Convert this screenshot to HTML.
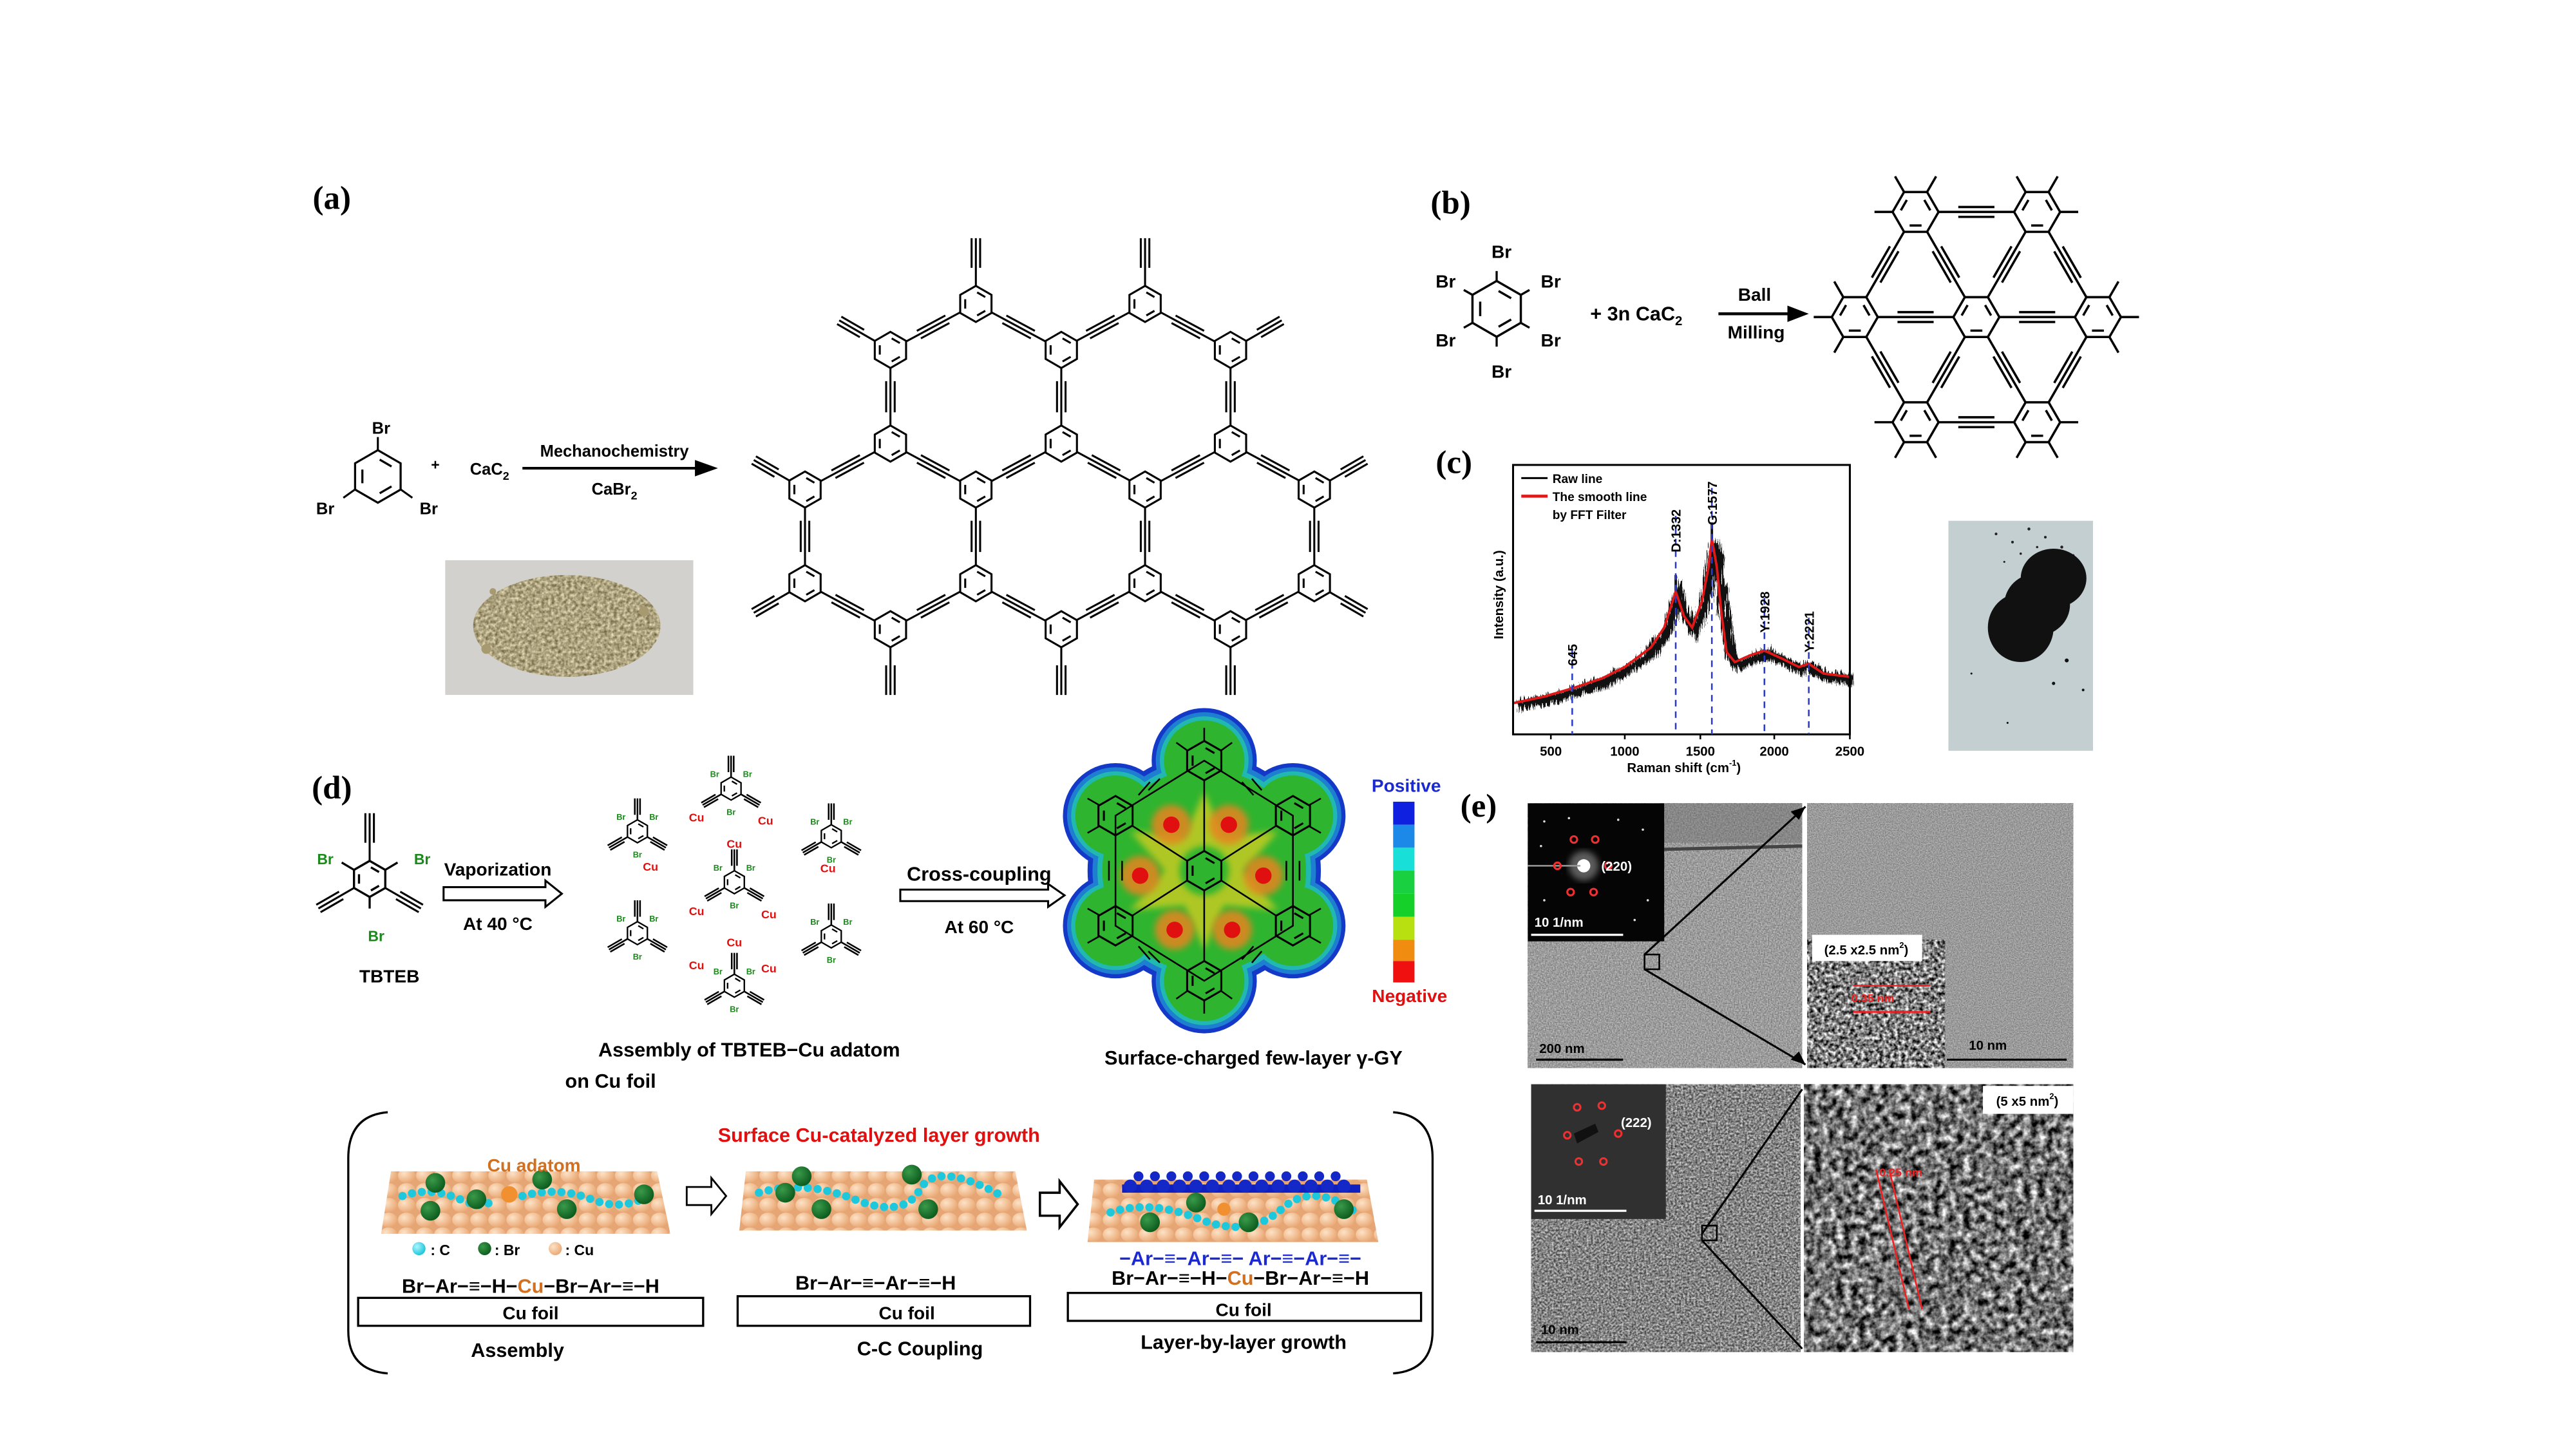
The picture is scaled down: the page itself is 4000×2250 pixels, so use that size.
<!DOCTYPE html>
<html><head><meta charset="utf-8">
<style>
html,body{margin:0;padding:0;background:#fff;}
svg{display:block;}
text{font-family:"Liberation Sans","DejaVu Sans",sans-serif;font-weight:bold;}
.s{font-family:"Liberation Serif",serif;font-weight:bold;}
filter{color-interpolation-filters:sRGB;}
</style></head>
<body>
<svg xmlns="http://www.w3.org/2000/svg" xmlns:xlink="http://www.w3.org/1999/xlink" width="4000" height="2250" viewBox="0 0 1568 882" preserveAspectRatio="none">
<defs>
<g id="R"><polygon points="0,-10 8.66,-5 8.66,5 0,10 -8.66,5 -8.66,-5"/><path d="M0.7,-6.4L5.2,-3.8M5.2,3.8L0.7,6.4M-5.89,2.6L-5.89,-2.6" fill="none"/></g>
<g id="bd"><path d="M0,0H59.06M19.7,-2.6H39.4M19.7,2.6H39.4" stroke="#000" stroke-width="1.2" fill="none"/></g>
<g id="bv"><path d="M0,0H57M19,-2.6H38M19,2.6H38" stroke="#000" stroke-width="1.2" fill="none"/></g>
<g id="tA"><path d="M0,0H36M20,-2.6H36M20,2.6H36" stroke="#000" stroke-width="1.2" fill="none"/></g>
<g id="tU"><path d="M0,0H40M22,-2.6H40M22,2.6H40" stroke="#000" stroke-width="1.2" fill="none"/></g>
<g id="bB"><path d="M0,0H74M26,-3H48M26,3H48" stroke="#000" stroke-width="1.4" fill="none"/></g>
<g id="st"><path d="M14,0H25" stroke="#000" stroke-width="1.4"/></g>
<g id="t2"><path d="M0,0H20M10,-1.6H20M10,1.6H20" stroke="#000" stroke-width="1" fill="none"/></g>
<g id="mol">
 <use href="#t2" transform="rotate(-90)"/><use href="#t2" transform="rotate(30)"/><use href="#t2" transform="rotate(150)"/>
 <use href="#R" transform="scale(0.7)" fill="#fff" stroke="#000" stroke-width="1.3"/>
 <text x="-10" y="-7" font-size="5" fill="#1a8a1a" text-anchor="middle">Br</text>
 <text x="10" y="-7" font-size="5" fill="#1a8a1a" text-anchor="middle">Br</text>
 <text x="0" y="16" font-size="5" fill="#1a8a1a" text-anchor="middle">Br</text>
</g>
<filter id="nTop" x="0" y="0" width="1" height="1" color-interpolation-filters="sRGB"><feTurbulence type="fractalNoise" baseFrequency="1.2" numOctaves="2" seed="3"/><feColorMatrix type="matrix" values="0.5 0 0 0 0.36  0.5 0 0 0 0.36  0.5 0 0 0 0.36  0 0 0 0 1"/></filter>
<filter id="nTR" x="0" y="0" width="1" height="1" color-interpolation-filters="sRGB"><feTurbulence type="fractalNoise" baseFrequency="1.4" numOctaves="2" seed="5"/><feColorMatrix type="matrix" values="0.45 0 0 0 0.38  0.45 0 0 0 0.38  0.45 0 0 0 0.38  0 0 0 0 1"/></filter>
<filter id="nHR" x="0" y="0" width="1" height="1" color-interpolation-filters="sRGB"><feTurbulence type="fractalNoise" baseFrequency="0.45" numOctaves="2" seed="8"/><feColorMatrix type="matrix" values="1.8 0 0 0 -0.4  1.8 0 0 0 -0.4  1.8 0 0 0 -0.4  0 0 0 0 1"/></filter>
<filter id="nBL" x="0" y="0" width="1" height="1" color-interpolation-filters="sRGB"><feTurbulence type="fractalNoise" baseFrequency="0.8" numOctaves="2" seed="11"/><feColorMatrix type="matrix" values="1.0 0 0 0 0.02  1.0 0 0 0 0.02  1.0 0 0 0 0.02  0 0 0 0 1"/></filter>
<filter id="nBR" x="0" y="0" width="1" height="1" color-interpolation-filters="sRGB"><feTurbulence type="fractalNoise" baseFrequency="0.22" numOctaves="3" seed="4"/><feColorMatrix type="matrix" values="1.7 0 0 0 -0.4  1.7 0 0 0 -0.4  1.7 0 0 0 -0.4  0 0 0 0 1"/></filter>
<filter id="nPow" x="0" y="0" width="1" height="1" color-interpolation-filters="sRGB"><feTurbulence type="fractalNoise" baseFrequency="0.5" numOctaves="2" seed="2"/><feColorMatrix type="matrix" values="0.7 0 0 0 0.33  0.7 0 0 0 0.29  0.7 0 0 0 0.15  0 0 0 0 1"/></filter>
<filter id="jit" x="-5%" y="-20%" width="110%" height="140%" color-interpolation-filters="sRGB"><feTurbulence type="turbulence" baseFrequency="0.9 0.05" numOctaves="2" seed="7" result="t"/><feDisplacementMap in="SourceGraphic" in2="t" scale="8" xChannelSelector="R" yChannelSelector="G"/></filter>
<filter id="blur2" color-interpolation-filters="sRGB"><feGaussianBlur stdDeviation="2"/></filter>
<clipPath id="powClip"><ellipse cx="345" cy="381" rx="57" ry="31"/></clipPath>
<radialGradient id="cuG" cx="0.35" cy="0.35" r="0.7"><stop offset="0" stop-color="#fde2c6"/><stop offset="1" stop-color="#e9a874"/></radialGradient>
<radialGradient id="cG" cx="0.35" cy="0.35" r="0.7"><stop offset="0" stop-color="#aef6ff"/><stop offset="1" stop-color="#16c4d8"/></radialGradient>
<radialGradient id="gG" cx="0.35" cy="0.35" r="0.7"><stop offset="0" stop-color="#3a9a4a"/><stop offset="1" stop-color="#0b5a1c"/></radialGradient>
<pattern id="cu" width="11" height="9" patternUnits="userSpaceOnUse"><rect width="11" height="9" fill="#e6a574"/><ellipse cx="5.5" cy="4.5" rx="5.3" ry="4.4" fill="url(#cuG)"/></pattern>
</defs>

<!-- ===== (a) ===== -->
<text x="202" y="127" font-size="20" class="s" text-anchor="middle">(a)</text>
<use href="#R" transform="translate(230,290) scale(1.6)" fill="#fff" stroke="#000" stroke-width="0.8"/>
<path d="M230,274V266M216,298L209,303M244,298L251,303" stroke="#000" stroke-width="1.2"/>
<text x="232" y="264" font-size="10" text-anchor="middle">Br</text>
<text x="198" y="313" font-size="10" text-anchor="middle">Br</text>
<text x="261" y="313" font-size="10" text-anchor="middle">Br</text>
<text x="265" y="286" font-size="9" text-anchor="middle">+</text>
<text x="298" y="289" font-size="10" text-anchor="middle">CaC<tspan font-size="7" dy="3">2</tspan></text>
<line x1="318" y1="285" x2="425" y2="285" stroke="#000" stroke-width="1.6"/>
<polygon points="423,280 437,285 423,290" fill="#000"/>
<text x="374" y="278" font-size="10" text-anchor="middle">Mechanochemistry</text>
<text x="374" y="301" font-size="10" text-anchor="middle">CaBr<tspan font-size="7" dy="3">2</tspan></text>
<rect x="271" y="341" width="151" height="82" fill="#d3d1cd"/>
<rect x="285" y="348" width="120" height="68" filter="url(#nPow)" clip-path="url(#powClip)"/>
<circle cx="296" cy="395" r="3" fill="#a89a70"/><circle cx="392" cy="372" r="3" fill="#a89a70"/><circle cx="300" cy="360" r="2" fill="#a89a70"/>

<use href="#bd" transform="translate(594,185) rotate(151.7)"/><use href="#bd" transform="translate(594,185) rotate(28.3)"/>
<use href="#bd" transform="translate(697,185) rotate(151.7)"/><use href="#bd" transform="translate(697,185) rotate(28.3)"/>
<use href="#bv" transform="translate(542,213) rotate(90)"/><use href="#bv" transform="translate(646,213) rotate(90)"/><use href="#bv" transform="translate(749,213) rotate(90)"/>
<use href="#bd" transform="translate(542,270) rotate(151.7)"/><use href="#bd" transform="translate(542,270) rotate(28.3)"/>
<use href="#bd" transform="translate(646,270) rotate(151.7)"/><use href="#bd" transform="translate(646,270) rotate(28.3)"/>
<use href="#bd" transform="translate(749,270) rotate(151.7)"/><use href="#bd" transform="translate(749,270) rotate(28.3)"/>
<use href="#bv" transform="translate(490,298) rotate(90)"/><use href="#bv" transform="translate(594,298) rotate(90)"/><use href="#bv" transform="translate(697,298) rotate(90)"/><use href="#bv" transform="translate(800,298) rotate(90)"/>
<use href="#bd" transform="translate(490,355) rotate(28.3)"/>
<use href="#bd" transform="translate(594,355) rotate(151.7)"/><use href="#bd" transform="translate(594,355) rotate(28.3)"/>
<use href="#bd" transform="translate(697,355) rotate(151.7)"/><use href="#bd" transform="translate(697,355) rotate(28.3)"/>
<use href="#bd" transform="translate(800,355) rotate(151.7)"/>
<use href="#tU" transform="translate(594,185) rotate(-90)"/><use href="#tU" transform="translate(697,185) rotate(-90)"/>
<use href="#tA" transform="translate(542,213) rotate(-150)"/><use href="#tA" transform="translate(749,213) rotate(-30)"/>
<use href="#tA" transform="translate(490,298) rotate(-150)"/><use href="#tA" transform="translate(800,298) rotate(-30)"/>
<use href="#tA" transform="translate(490,355) rotate(150)"/><use href="#tA" transform="translate(800,355) rotate(30)"/>
<use href="#tU" transform="translate(542,383) rotate(90)"/><use href="#tU" transform="translate(646,383) rotate(90)"/><use href="#tU" transform="translate(749,383) rotate(90)"/>
<g fill="#fff" stroke="#000" stroke-width="1.1">
<use href="#R" transform="translate(594,185) scale(1.1)"/><use href="#R" transform="translate(697,185) scale(1.1)"/>
<use href="#R" transform="translate(542,213) scale(1.1)"/><use href="#R" transform="translate(646,213) scale(1.1)"/><use href="#R" transform="translate(749,213) scale(1.1)"/>
<use href="#R" transform="translate(542,270) scale(1.1)"/><use href="#R" transform="translate(646,270) scale(1.1)"/><use href="#R" transform="translate(749,270) scale(1.1)"/>
<use href="#R" transform="translate(490,298) scale(1.1)"/><use href="#R" transform="translate(594,298) scale(1.1)"/><use href="#R" transform="translate(697,298) scale(1.1)"/><use href="#R" transform="translate(800,298) scale(1.1)"/>
<use href="#R" transform="translate(490,355) scale(1.1)"/><use href="#R" transform="translate(594,355) scale(1.1)"/><use href="#R" transform="translate(697,355) scale(1.1)"/><use href="#R" transform="translate(800,355) scale(1.1)"/>
<use href="#R" transform="translate(542,383) scale(1.1)"/><use href="#R" transform="translate(646,383) scale(1.1)"/><use href="#R" transform="translate(749,383) scale(1.1)"/>
</g>

<!-- ===== (b) ===== -->
<text x="883" y="130" font-size="20" class="s" text-anchor="middle">(b)</text>
<use href="#R" transform="translate(911,188) scale(1.7)" fill="#fff" stroke="#000" stroke-width="0.8"/>
<path d="M911,171V165M925.7,179.5L931,176.5M925.7,196.5L931,199.5M911,205V211M896.3,196.5L891,199.5M896.3,179.5L891,176.5" stroke="#000" stroke-width="1.3"/>
<g font-size="11" text-anchor="middle">
<text x="914" y="157">Br</text><text x="880" y="175">Br</text><text x="944" y="175">Br</text>
<text x="880" y="211">Br</text><text x="944" y="211">Br</text><text x="914" y="230">Br</text>
</g>
<text x="996" y="195" font-size="12" text-anchor="middle">+ 3n CaC<tspan font-size="8" dy="3">2</tspan></text>
<line x1="1046" y1="191" x2="1092" y2="191" stroke="#000" stroke-width="1.8"/>
<polygon points="1088,186 1101,191 1088,196" fill="#000"/>
<text x="1068" y="183" font-size="11" text-anchor="middle">Ball</text>
<text x="1069" y="206" font-size="11" text-anchor="middle">Milling</text>
<use href="#bB" transform="translate(1166,129) rotate(0)"/>
<use href="#bB" transform="translate(1240,129) rotate(60)"/>
<use href="#bB" transform="translate(1277,193) rotate(120)"/>
<use href="#bB" transform="translate(1240,257) rotate(180)"/>
<use href="#bB" transform="translate(1166,257) rotate(240)"/>
<use href="#bB" transform="translate(1129,193) rotate(-60)"/>
<use href="#bB" transform="translate(1203,193) rotate(-120)"/>
<use href="#bB" transform="translate(1203,193) rotate(-60)"/>
<use href="#bB" transform="translate(1203,193) rotate(0)"/>
<use href="#bB" transform="translate(1203,193) rotate(60)"/>
<use href="#bB" transform="translate(1203,193) rotate(120)"/>
<use href="#bB" transform="translate(1203,193) rotate(180)"/>
<use href="#st" transform="translate(1166,129) rotate(-180)"/><use href="#st" transform="translate(1166,129) rotate(-120)"/><use href="#st" transform="translate(1166,129) rotate(-60)"/>
<use href="#st" transform="translate(1240,129) rotate(-120)"/><use href="#st" transform="translate(1240,129) rotate(-60)"/><use href="#st" transform="translate(1240,129) rotate(0)"/>
<use href="#st" transform="translate(1277,193) rotate(-60)"/><use href="#st" transform="translate(1277,193) rotate(0)"/><use href="#st" transform="translate(1277,193) rotate(60)"/>
<use href="#st" transform="translate(1240,257) rotate(0)"/><use href="#st" transform="translate(1240,257) rotate(60)"/><use href="#st" transform="translate(1240,257) rotate(120)"/>
<use href="#st" transform="translate(1166,257) rotate(60)"/><use href="#st" transform="translate(1166,257) rotate(120)"/><use href="#st" transform="translate(1166,257) rotate(180)"/>
<use href="#st" transform="translate(1129,193) rotate(120)"/><use href="#st" transform="translate(1129,193) rotate(180)"/><use href="#st" transform="translate(1129,193) rotate(240)"/>
<g fill="#fff" stroke="#000" stroke-width="1">
<use href="#R" transform="translate(1166,129) rotate(30) scale(1.4)"/><use href="#R" transform="translate(1240,129) rotate(30) scale(1.4)"/>
<use href="#R" transform="translate(1277,193) rotate(30) scale(1.4)"/><use href="#R" transform="translate(1240,257) rotate(30) scale(1.4)"/>
<use href="#R" transform="translate(1166,257) rotate(30) scale(1.4)"/><use href="#R" transform="translate(1129,193) rotate(30) scale(1.4)"/>
<use href="#R" transform="translate(1203,193) rotate(30) scale(1.4)"/>
</g>

<!-- ===== (c) ===== -->
<text x="885" y="288" font-size="20" class="s" text-anchor="middle">(c)</text>
<path d="M921,428 L940,424 957,419 975,413 989,406 1005,394 1013,382 1020,360 1025,375 1030,382 1036,366 1040,345 1042,328 1045,345 1048,375 1051,397 1056,403 1065,399 1074,396 1085,401 1095,406 1101,404 1110,410 1126,412" fill="none" stroke="#111" stroke-width="6" filter="url(#jit)"/>
<path d="M1042,318 L1042,340 M1020,350 L1020,368 M1006,388 L1006,400" stroke="#111" stroke-width="1.5"/>
<path d="M921,428 L940,424 957,419 975,413 989,406 1005,394 1013,382 1020,360 1025,375 1030,382 1036,366 1040,345 1042,328 1045,345 1048,375 1051,397 1056,403 1065,399 1074,396 1085,401 1095,406 1101,404 1110,410 1126,412" fill="none" stroke="#e01818" stroke-width="1.5"/>
<rect x="921" y="283" width="205" height="164" fill="none" stroke="#000" stroke-width="1.2"/>
<g stroke="#2a3cc8" stroke-width="1" stroke-dasharray="4,3">
<line x1="957" y1="396" x2="957" y2="447"/><line x1="1020" y1="314" x2="1020" y2="447"/><line x1="1042" y1="297" x2="1042" y2="447"/>
<line x1="1074" y1="364" x2="1074" y2="447"/><line x1="1101" y1="376" x2="1101" y2="447"/>
</g>
<g font-size="8" class="s" text-anchor="end">
<text x="960" y="392" transform="rotate(-90 960 392)">645</text>
<text x="1023" y="310" transform="rotate(-90 1023 310)">D:1332</text>
<text x="1045" y="293" transform="rotate(-90 1045 293)">G:1577</text>
<text x="1077" y="360" transform="rotate(-90 1077 360)">Y:1928</text>
<text x="1104" y="372" transform="rotate(-90 1104 372)">Y:2221</text>
</g>
<path d="M944,447V450M989,447V450M1035,447V450M1080,447V450M1126,447V450" stroke="#000"/>
<g font-size="8" text-anchor="middle">
<text x="944" y="460">500</text><text x="989" y="460">1000</text><text x="1035" y="460">1500</text><text x="1080" y="460">2000</text><text x="1126" y="460">2500</text>
<text x="1025" y="470">Raman shift (cm<tspan font-size="5" dy="-4">-1</tspan><tspan dy="4">)</tspan></text>
<text x="915" y="362" transform="rotate(-90 915 362)">Intensity (a.u.)</text>
</g>
<line x1="926" y1="291" x2="942" y2="291" stroke="#000" stroke-width="1.2"/>
<line x1="926" y1="302" x2="942" y2="302" stroke="#e01818" stroke-width="1.8"/>
<g font-size="7.5"><text x="945" y="294">Raw line</text><text x="945" y="305">The smooth line</text><text x="945" y="316">by FFT Filter</text></g>
<rect x="1186" y="317" width="88" height="140" fill="#c3cfd1"/>
<g fill="#222"><circle cx="1215" cy="325" r="0.8"/><circle cx="1225" cy="330" r="0.8"/><circle cx="1235" cy="322" r="0.9"/><circle cx="1245" cy="327" r="0.8"/><circle cx="1255" cy="333" r="0.9"/><circle cx="1230" cy="337" r="0.7"/><circle cx="1240" cy="333" r="0.7"/><circle cx="1262" cy="338" r="0.7"/><circle cx="1220" cy="342" r="0.6"/></g>
<ellipse cx="1250" cy="352" rx="20" ry="18" fill="#111"/>
<ellipse cx="1230" cy="382" rx="20" ry="21" fill="#111"/>
<ellipse cx="1240" cy="368" rx="20" ry="19" fill="#111"/>
<g fill="#111"><circle cx="1258" cy="402" r="1.2"/><circle cx="1268" cy="420" r="0.8"/><circle cx="1200" cy="410" r="0.6"/><circle cx="1222" cy="440" r="0.6"/><circle cx="1250" cy="416" r="1"/></g>

<!-- ===== (d) ===== -->
<text x="202" y="486" font-size="20" class="s" text-anchor="middle">(d)</text>
<use href="#tU" transform="translate(225,535) rotate(-90)"/>
<use href="#tA" transform="translate(225,535) rotate(150)"/>
<use href="#tA" transform="translate(225,535) rotate(30)"/>
<use href="#R" transform="translate(225,535) scale(1.1)" fill="#fff" stroke="#000" stroke-width="1.2"/>
<path d="M234.5,529.5L242,525M215.5,529.5L208,525M225,546V553" stroke="#000" stroke-width="1.3"/>
<g font-size="9" fill="#1a8a1a" text-anchor="middle"><text x="198" y="526">Br</text><text x="257" y="526">Br</text><text x="229" y="573">Br</text></g>
<text x="237" y="598" font-size="11" text-anchor="middle">TBTEB</text>
<polygon points="270,540 332,540 332,536 342,544 332,552 332,548 270,548" fill="#fff" stroke="#000" stroke-width="1.2"/>
<text x="303" y="533" font-size="11" text-anchor="middle">Vaporization</text>
<text x="303" y="566" font-size="11" text-anchor="middle">At 40 °C</text>
<use href="#mol" transform="translate(445,480)"/><use href="#mol" transform="translate(388,506)"/><use href="#mol" transform="translate(506,509)"/>
<use href="#mol" transform="translate(447,537)"/><use href="#mol" transform="translate(388,568)"/><use href="#mol" transform="translate(506,570)"/>
<use href="#mol" transform="translate(447,600)"/>
<g font-size="7" fill="#e01010" text-anchor="middle">
<text x="424" y="500">Cu</text><text x="466" y="502">Cu</text><text x="447" y="516">Cu</text><text x="396" y="530">Cu</text><text x="504" y="531">Cu</text>
<text x="424" y="557">Cu</text><text x="468" y="559">Cu</text><text x="447" y="576">Cu</text><text x="424" y="590">Cu</text><text x="468" y="592">Cu</text>
</g>
<text x="456" y="643" font-size="12" text-anchor="middle">Assembly of TBTEB−Cu adatom</text>
<text x="344" y="662" font-size="12">on Cu foil</text>
<polygon points="548,541.5 638,541.5 638,538 648,545 638,552 638,548.5 548,548.5" fill="#fff" stroke="#000" stroke-width="1.2"/>
<text x="596" y="536" font-size="12" text-anchor="middle">Cross-coupling</text>
<text x="596" y="568" font-size="11" text-anchor="middle">At 60 °C</text>
<!-- ESP -->
<g fill="#1438c8"><circle cx="733" cy="530" r="71"/><circle cx="733" cy="463" r="32"/><circle cx="787" cy="496.5" r="32"/><circle cx="787" cy="563.5" r="32"/><circle cx="733" cy="597" r="32"/><circle cx="679" cy="563.5" r="32"/><circle cx="679" cy="496.5" r="32"/></g>
<g fill="#1e7ed0"><circle cx="733" cy="530" r="68"/><circle cx="733" cy="463" r="29.5"/><circle cx="787" cy="496.5" r="29.5"/><circle cx="787" cy="563.5" r="29.5"/><circle cx="733" cy="597" r="29.5"/><circle cx="679" cy="563.5" r="29.5"/><circle cx="679" cy="496.5" r="29.5"/></g>
<g fill="#20b8b0"><circle cx="733" cy="530" r="65"/><circle cx="733" cy="463" r="27"/><circle cx="787" cy="496.5" r="27"/><circle cx="787" cy="563.5" r="27"/><circle cx="733" cy="597" r="27"/><circle cx="679" cy="563.5" r="27"/><circle cx="679" cy="496.5" r="27"/></g>
<g fill="#2fb42f"><circle cx="733" cy="530" r="62"/><circle cx="733" cy="463" r="24.5"/><circle cx="787" cy="496.5" r="24.5"/><circle cx="787" cy="563.5" r="24.5"/><circle cx="733" cy="597" r="24.5"/><circle cx="679" cy="563.5" r="24.5"/><circle cx="679" cy="496.5" r="24.5"/></g>
<polygon points="733,482 745,509 778,506 757,530 778,554 745,551 733,578 721,551 688,554 709,530 688,506 721,509" fill="#e6d020" opacity="0.7" filter="url(#blur2)"/>
<g fill="#e88420" opacity="0.85" filter="url(#blur2)"><circle cx="713" cy="502" r="12"/><circle cx="748" cy="502" r="12"/><circle cx="694" cy="533" r="12"/><circle cx="769" cy="533" r="12"/><circle cx="715" cy="566" r="12"/><circle cx="750" cy="566" r="12"/></g>
<circle cx="733" cy="530" r="15" fill="#2fb42f" filter="url(#blur2)"/>
<g fill="#e01010"><circle cx="713" cy="502" r="5"/><circle cx="748" cy="502" r="5"/><circle cx="694" cy="533" r="5"/><circle cx="769" cy="533" r="5"/><circle cx="715" cy="566" r="5"/><circle cx="750" cy="566" r="5"/></g>
<g stroke="#000" stroke-width="1" fill="none">
<polygon points="733,463 787,496.5 787,563.5 733,597 679,563.5 679,496.5"/>
<path d="M733,475V518M733,542V585M689,502.5L722.6,524M743.4,536L777,557.5M777,502.5L743.4,524M722.6,536L689,557.5"/>
<path d="M756,476L763,484M762,474L768,481M700,476L693,484M706,474L699,481M756,584L763,576M762,586L768,579M700,584L693,576M706,586L699,579M683,524V536M675,524V536M783,524V536M791,524V536"/>
<path d="M733,451V443M743,457L750,452M723,457L716,452M733,609V617M743,603L750,608M723,603L716,608M797,490L804,486M797,503L804,507M797,557L804,553M797,570L804,574M669,490L662,486M669,503L662,507M669,557L662,553M669,570L662,574"/>
</g>
<g fill="none" stroke="#000" stroke-width="1">
<use href="#R" transform="translate(733,463) scale(1.2)"/><use href="#R" transform="translate(787,496.5) scale(1.2)"/><use href="#R" transform="translate(787,563.5) scale(1.2)"/>
<use href="#R" transform="translate(733,597) scale(1.2)"/><use href="#R" transform="translate(679,563.5) scale(1.2)"/><use href="#R" transform="translate(679,496.5) scale(1.2)"/>
<use href="#R" transform="translate(733,530) scale(1.2)"/>
</g>
<rect x="848" y="488" width="13" height="14" fill="#1020e0"/><rect x="848" y="502" width="13" height="14" fill="#1c88e8"/>
<rect x="848" y="516" width="13" height="14" fill="#18e0d8"/><rect x="848" y="530" width="13" height="14" fill="#18d040"/>
<rect x="848" y="544" width="13" height="14" fill="#14d028"/><rect x="848" y="558" width="13" height="14" fill="#b8e010"/>
<rect x="848" y="572" width="13" height="13" fill="#f08c10"/><rect x="848" y="585" width="13" height="13" fill="#f01010"/>
<text x="856" y="482" font-size="11" fill="#1a2ad0" text-anchor="middle">Positive</text>
<text x="858" y="610" font-size="11" fill="#e01010" text-anchor="middle">Negative</text>
<text x="763" y="648" font-size="12" text-anchor="middle">Surface-charged few-layer γ-GY</text>

<!-- bottom bracket panel -->
<path d="M236,677 Q212,679 212,705 L212,810 Q212,834 236,836" fill="none" stroke="#000" stroke-width="1.3"/>
<path d="M848,677 Q872,679 872,705 L872,810 Q872,834 848,836" fill="none" stroke="#000" stroke-width="1.3"/>
<text x="535" y="695" font-size="12" fill="#e01010" text-anchor="middle">Surface Cu-catalyzed layer growth</text>
<polygon points="238,713 400,713 408,751 232,751" fill="url(#cu)"/>
<polygon points="454,713 618,713 625,749 450,749" fill="url(#cu)"/>
<polygon points="666,718 832,718 839,756 662,756" fill="url(#cu)"/>
<g fill="none" stroke="#1ec8dc" stroke-width="5" stroke-linecap="round" stroke-dasharray="0 6">
<path d="M245,728 Q262,722 280,730 T300,728"/><path d="M318,728 Q340,722 360,730 T398,726"/>
<path d="M462,726 Q490,718 520,730 T560,724 T610,728"/>
<path d="M676,738 Q700,730 730,742 T780,736 T828,740"/>
</g>
<circle cx="310" cy="727" r="5" fill="#f09030"/><circle cx="745" cy="736" r="4" fill="#f09030"/>
<g fill="url(#gG)">
<circle cx="265" cy="720" r="6"/><circle cx="262" cy="737" r="6"/><circle cx="290" cy="730" r="6"/><circle cx="330" cy="718" r="6"/><circle cx="345" cy="736" r="6"/><circle cx="392" cy="727" r="6"/>
<circle cx="478" cy="726" r="6"/><circle cx="488" cy="716" r="6"/><circle cx="500" cy="736" r="6"/><circle cx="555" cy="715" r="6"/><circle cx="565" cy="736" r="6"/>
<circle cx="700" cy="744" r="6"/><circle cx="728" cy="732" r="6"/><circle cx="760" cy="744" r="6"/><circle cx="818" cy="736" r="6"/>
</g>
<rect x="683" y="721" width="145" height="5" fill="#1020c0"/>
<g fill="none" stroke="#1428c8" stroke-width="8" stroke-linecap="round" stroke-dasharray="0 10"><path d="M688,722 H828"/><path d="M693,716 H823" stroke-width="6"/></g>
<polygon points="418,722.5 433,722.5 433,717 442,728 433,739 433,733.5 418,733.5" fill="#fff" stroke="#000" stroke-width="1.1"/>
<polygon points="633,726 645,726 645,719 656,733 645,747 645,740 633,740" fill="#fff" stroke="#000" stroke-width="1.4"/>
<text x="325" y="713" font-size="11" fill="#d07020" text-anchor="middle">Cu adatom</text>
<circle cx="255" cy="760" r="4" fill="url(#cG)"/><text x="262" y="764" font-size="9">: C</text>
<circle cx="295" cy="760" r="4" fill="url(#gG)"/><text x="301" y="764" font-size="9">: Br</text>
<circle cx="338" cy="760" r="4" fill="url(#cuG)"/><text x="344" y="764" font-size="9">: Cu</text>
<g font-size="12" text-anchor="middle">
<text x="323" y="787">Br−Ar−≡−H−<tspan fill="#d07020">Cu</tspan>−Br−Ar−≡−H</text>
<text x="533" y="785">Br−Ar−≡−Ar−≡−H</text>
<text x="755" y="770" fill="#1a2ad0">−Ar−≡−Ar−≡− Ar−≡−Ar−≡−</text>
<text x="755" y="782">Br−Ar−≡−H−<tspan fill="#d07020">Cu</tspan>−Br−Ar−≡−H</text>
</g>
<g fill="#fff" stroke="#000" stroke-width="1.3">
<rect x="218" y="790" width="210" height="17"/><rect x="449" y="789" width="178" height="18"/><rect x="650" y="787" width="215" height="17"/>
</g>
<g font-size="11" text-anchor="middle"><text x="323" y="803">Cu foil</text><text x="552" y="803">Cu foil</text><text x="757" y="801">Cu foil</text></g>
<g font-size="12" text-anchor="middle"><text x="315" y="826">Assembly</text><text x="560" y="825">C-C Coupling</text><text x="757" y="821">Layer-by-layer growth</text></g>

<!-- ===== (e) ===== -->
<text x="900" y="497" font-size="20" class="s" text-anchor="middle">(e)</text>
<rect x="930" y="489" width="167" height="161" filter="url(#nTop)"/>
<rect x="1013" y="489" width="84" height="24" fill="#6a6a6a" opacity="0.4"/>
<line x1="1013" y1="517" x2="1097" y2="515" stroke="#444" stroke-width="2"/>
<rect x="930" y="489" width="83" height="84" fill="#050505"/>
<circle cx="964" cy="527" r="9" fill="#fff" opacity="0.35" filter="url(#blur2)"/>
<circle cx="964" cy="527" r="4" fill="#fff"/>
<line x1="930" y1="527" x2="962" y2="527" stroke="#999"/>
<g fill="none" stroke="#f03030" stroke-width="1.2"><circle cx="958" cy="511" r="2"/><circle cx="971" cy="511" r="2"/><circle cx="948" cy="527" r="2"/><circle cx="979" cy="527" r="2"/><circle cx="956" cy="543" r="2"/><circle cx="970" cy="543" r="2"/></g>
<g fill="#ddd"><circle cx="940" cy="500" r="0.7"/><circle cx="955" cy="498" r="0.7"/><circle cx="985" cy="499" r="0.7"/><circle cx="1000" cy="505" r="0.7"/><circle cx="940" cy="548" r="0.7"/><circle cx="1003" cy="548" r="0.7"/><circle cx="995" cy="560" r="0.7"/><circle cx="938" cy="515" r="0.7"/></g>
<text x="984" y="530" font-size="8" fill="#fff" text-anchor="middle">(220)</text>
<text x="934" y="564" font-size="8" fill="#fff">10  1/nm</text>
<line x1="932" y1="569" x2="988" y2="569" stroke="#fff" stroke-width="1.3"/>
<text x="937" y="641" font-size="8">200 nm</text>
<line x1="935" y1="645" x2="988" y2="645" stroke="#000" stroke-width="1.3"/>
<rect x="1100" y="489" width="162" height="161" filter="url(#nTR)"/>
<rect x="1100" y="572" width="84" height="78" filter="url(#nHR)"/>
<rect x="1103" y="569" width="67" height="16" fill="#fff"/>
<text x="1136" y="581" font-size="8" text-anchor="middle">(2.5 x2.5 nm<tspan font-size="5" dy="-4">2</tspan><tspan dy="4">)</tspan></text>
<line x1="1128" y1="600" x2="1175" y2="600" stroke="#f02020"/><line x1="1128" y1="616" x2="1175" y2="616" stroke="#f02020"/>
<text x="1140" y="610" font-size="7" fill="#f02020" text-anchor="middle">0.35 nm</text>
<text x="1210" y="639" font-size="8" text-anchor="middle">10 nm</text>
<line x1="1185" y1="645" x2="1258" y2="645" stroke="#000" stroke-width="1.2"/>
<rect x="1001" y="581" width="9" height="9" fill="none" stroke="#000"/>
<line x1="1001" y1="581" x2="1099" y2="491" stroke="#000" stroke-width="1.2"/>
<line x1="1001" y1="590" x2="1099" y2="648" stroke="#000" stroke-width="1.2"/>
<polygon points="1099,491 1090,494 1095,499" fill="#000"/><polygon points="1099,648 1095,640 1090,645" fill="#000"/>
<rect x="932" y="660" width="164" height="163" filter="url(#nBL)"/>
<rect x="932" y="660" width="82" height="82" fill="#303030"/>
<g fill="none" stroke="#f03030" stroke-width="1.2"><circle cx="960" cy="674" r="2"/><circle cx="975" cy="673" r="2"/><circle cx="954" cy="691" r="2"/><circle cx="985" cy="690" r="2"/><circle cx="961" cy="707" r="2"/><circle cx="976" cy="707" r="2"/></g>
<polygon points="958,690 971,684 973,689 960,696" fill="#111"/>
<text x="996" y="686" font-size="8" fill="#fff" text-anchor="middle">(222)</text>
<text x="936" y="733" font-size="8" fill="#fff">10  1/nm</text>
<line x1="934" y1="737" x2="990" y2="737" stroke="#fff" stroke-width="1.3"/>
<text x="938" y="812" font-size="8">10 nm</text>
<line x1="935" y1="817" x2="990" y2="817" stroke="#000" stroke-width="1.2"/>
<rect x="1036" y="746" width="9" height="9" fill="none" stroke="#000"/>
<line x1="1036" y1="751" x2="1097" y2="663" stroke="#000" stroke-width="1.2"/>
<line x1="1036" y1="755" x2="1097" y2="821" stroke="#000" stroke-width="1.2"/>
<rect x="1098" y="660" width="164" height="163" filter="url(#nBR)"/>
<rect x="1207" y="661" width="55" height="17" fill="#fff"/>
<text x="1234" y="673" font-size="8" text-anchor="middle">(5 x5 nm<tspan font-size="5" dy="-4">2</tspan><tspan dy="4">)</tspan></text>
<line x1="1142" y1="712" x2="1162" y2="797" stroke="#f02020"/><line x1="1150" y1="712" x2="1170" y2="797" stroke="#f02020"/>
<text x="1157" y="716" font-size="7" fill="#f02020" text-anchor="middle">0.25 nm</text>
</svg>
</body></html>
